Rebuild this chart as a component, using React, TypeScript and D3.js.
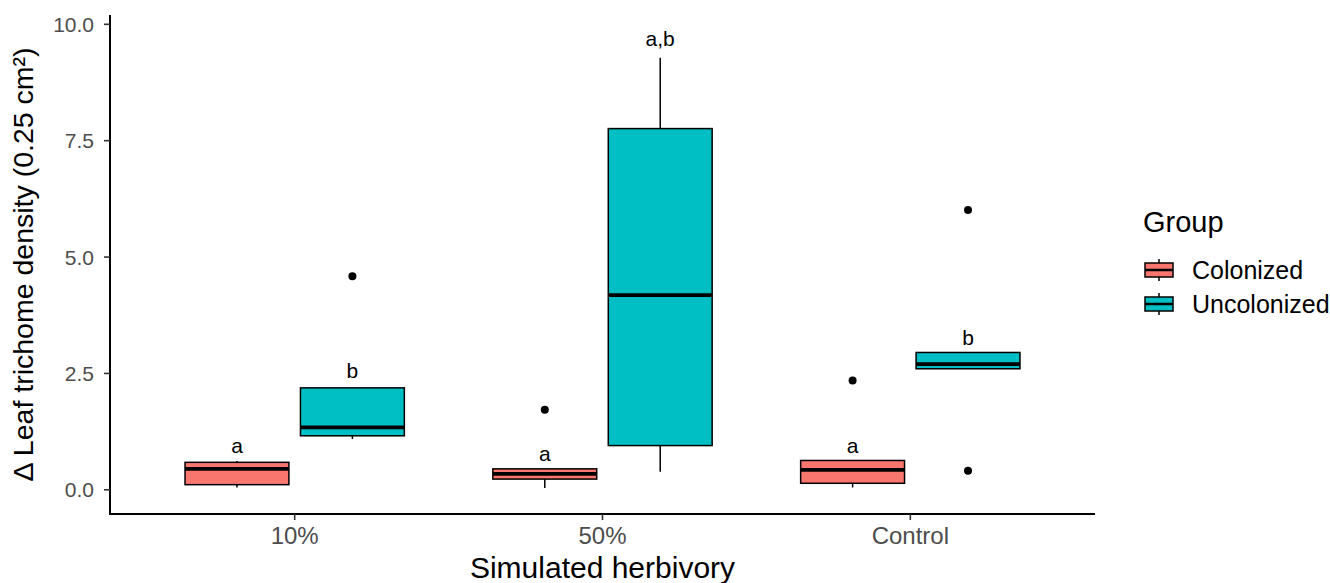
import React from "react";
import * as d3 from "d3";

// Treatments on the x axis and the two colonization groups
const treatments = ["10%", "50%", "Control"];
const groups = ["Colonized", "Uncolonized"];
const groupColors = ["#F8766D", "#00BFC4"];

// Box statistics per treatment, one array per statistic, ordered as treatments x groups
const lowerWhisker = [
  [0.05, 1.09],
  [0.04, 0.39],
  [0.05, 2.6],
];
const lowerHinge = [
  [0.11, 1.16],
  [0.23, 0.95],
  [0.14, 2.6],
];
const medians = [
  [0.45, 1.34],
  [0.34, 4.18],
  [0.43, 2.7],
];
const upperHinge = [
  [0.59, 2.19],
  [0.45, 7.76],
  [0.63, 2.95],
];
const upperWhisker = [
  [0.62, 2.19],
  [0.45, 9.28],
  [0.63, 2.95],
];
const outliers = [
  [[], [4.59]],
  [[1.72], []],
  [[2.35], [6.01, 0.41]],
];

// Compact letter display from the post-hoc test
const letters = [
  ["a", "b"],
  ["a", "a,b"],
  ["a", "b"],
];
const letterY = [
  [0.79, 2.41],
  [0.61, 9.53],
  [0.79, 3.12],
];

const yTicks = [0, 2.5, 5, 7.5, 10];

const W = 1330;
const H = 583;
const plotLeft = 110;
const plotRight = 1095;
const plotTop = 15;
const plotBottom = 514;
const font = "'Liberation Sans', Arial, sans-serif";

export default function App() {
  const x = d3
    .scalePoint<string>()
    .domain(treatments)
    .range([plotLeft, plotRight])
    .padding(0.6);
  const step = x.step();
  const dodge = d3
    .scaleBand<string>()
    .domain(groups)
    .range([-0.375 * step, 0.375 * step]);
  const boxW = dodge.bandwidth() * 0.9;

  const y = d3.scaleLinear().domain([-0.52, 10.2]).range([plotBottom, plotTop]);
  const fmt = d3.format(".1f");

  return (
    <svg
      width={W}
      height={H}
      style={{ position: "absolute", left: 0, top: 0, background: "#fff" }}
      fontFamily={font}
    >
      {/* boxes */}
      {treatments.map((t, i) =>
        groups.map((g, j) => {
          const cx = (x(t) as number) + (dodge(g) as number) + dodge.bandwidth() / 2;
          return (
            <g key={t + g}>
              <line
                x1={cx}
                x2={cx}
                y1={y(upperWhisker[i][j])}
                y2={y(upperHinge[i][j])}
                stroke="#000"
                strokeWidth={1.5}
              />
              <line
                x1={cx}
                x2={cx}
                y1={y(lowerHinge[i][j])}
                y2={y(lowerWhisker[i][j])}
                stroke="#000"
                strokeWidth={1.5}
              />
              <rect
                x={cx - boxW / 2}
                y={y(upperHinge[i][j])}
                width={boxW}
                height={y(lowerHinge[i][j]) - y(upperHinge[i][j])}
                fill={groupColors[j]}
                stroke="#000"
                strokeWidth={1.5}
              />
              <line
                x1={cx - boxW / 2}
                x2={cx + boxW / 2}
                y1={y(medians[i][j])}
                y2={y(medians[i][j])}
                stroke="#000"
                strokeWidth={3.8}
              />
              {outliers[i][j].map((v, k) => (
                <circle key={k} cx={cx} cy={y(v)} r={4} fill="#000" />
              ))}
              <text
                x={cx}
                y={y(letterY[i][j])}
                textAnchor="middle"
                fontSize={21}
                fill="#000"
              >
                {letters[i][j]}
              </text>
            </g>
          );
        })
      )}

      {/* y axis */}
      <line x1={plotLeft} x2={plotLeft} y1={plotTop} y2={plotBottom + 1} stroke="#000" strokeWidth={2} />
      {yTicks.map((v) => (
        <g key={v}>
          <line x1={plotLeft - 6} x2={plotLeft} y1={y(v)} y2={y(v)} stroke="#333" strokeWidth={1.6} />
          <text
            x={plotLeft - 16}
            y={y(v)}
            dy="0.36em"
            textAnchor="end"
            fontSize={21}
            fill="#4D4D4D"
          >
            {fmt(v)}
          </text>
        </g>
      ))}
      <text
        transform={`translate(33, ${(plotTop + plotBottom) / 2}) rotate(-90)`}
        textAnchor="middle"
        fontSize={28.5}
        fill="#000"
      >
        Δ Leaf trichome density (0.25 cm²)
      </text>

      {/* x axis */}
      <line x1={plotLeft - 1} x2={plotRight} y1={plotBottom} y2={plotBottom} stroke="#000" strokeWidth={2} />
      {treatments.map((t) => (
        <g key={t}>
          <line
            x1={x(t) as number}
            x2={x(t) as number}
            y1={plotBottom}
            y2={plotBottom + 6}
            stroke="#333"
            strokeWidth={1.6}
          />
          <text x={x(t) as number} y={plotBottom + 30} textAnchor="middle" fontSize={24} fill="#4D4D4D">
            {t}
          </text>
        </g>
      ))}
      <text
        x={(plotLeft + plotRight) / 2}
        y={578}
        textAnchor="middle"
        fontSize={30}
        fill="#000"
      >
        Simulated herbivory
      </text>

      {/* legend */}
      <text x={1143} y={232} fontSize={29} fill="#000">
        Group
      </text>
      {groups.map((g, j) => {
        const cy = 270 + j * 34;
        const kx = 1159;
        return (
          <g key={g}>
            <line x1={kx} x2={kx} y1={cy - 11} y2={cy + 11} stroke="#000" strokeWidth={1.5} />
            <rect x={kx - 14} y={cy - 7} width={28} height={14} fill={groupColors[j]} stroke="#000" strokeWidth={1.5} />
            <line x1={kx - 14} x2={kx + 14} y1={cy} y2={cy} stroke="#000" strokeWidth={2.5} />
            <text x={1192} y={cy + 9} fontSize={25} fill="#000">
              {g}
            </text>
          </g>
        );
      })}
    </svg>
  );
}
